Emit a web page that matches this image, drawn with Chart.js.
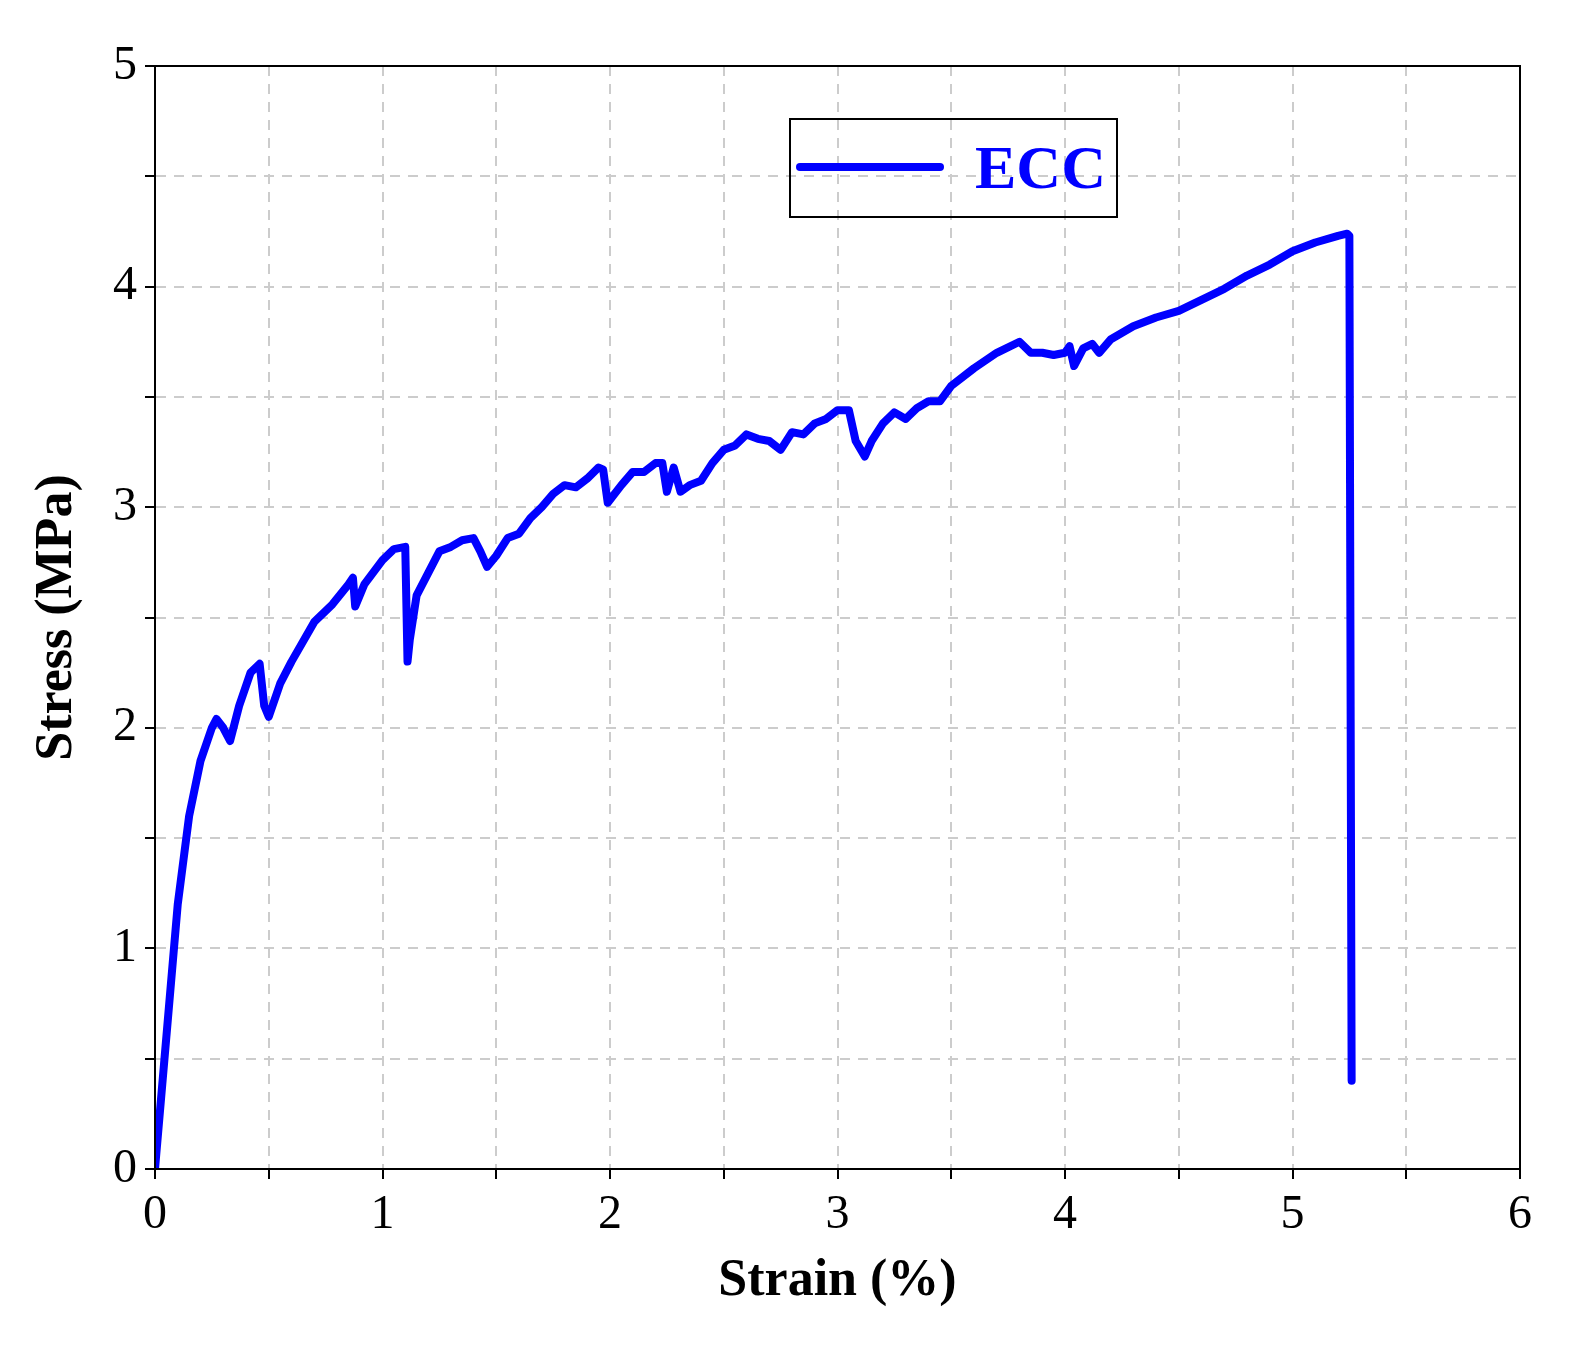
<!DOCTYPE html>
<html>
<head>
<meta charset="utf-8">
<script src="https://cdn.jsdelivr.net/npm/chart.js@4"></script>
<style>
  html, body { margin: 0; background: #fff; overflow: hidden; }
  #wrap { width: 1595px; height: 1355px; position: relative; }
</style>
</head>
<body>
<div id="wrap"><canvas id="lineChart"></canvas></div>
<script>
// strain (%) and stress (MPa)
var strain = [0,0.05,0.1,0.15,0.2,0.25,0.27,0.3,0.33,0.37,0.42,0.46,0.48,0.5,0.55,0.6,0.7,0.78,0.85,0.87,0.88,0.92,1.0,1.05,1.1,1.11,1.12,1.15,1.2,1.25,1.3,1.35,1.4,1.43,1.46,1.5,1.55,1.6,1.65,1.7,1.75,1.8,1.85,1.9,1.95,1.97,1.99,2.05,2.1,2.15,2.2,2.23,2.25,2.28,2.31,2.35,2.4,2.45,2.5,2.55,2.6,2.65,2.7,2.75,2.8,2.85,2.9,2.95,3.0,3.05,3.08,3.12,3.15,3.2,3.25,3.3,3.35,3.4,3.45,3.5,3.6,3.7,3.8,3.85,3.9,3.95,4.0,4.02,4.04,4.08,4.12,4.15,4.2,4.3,4.4,4.5,4.6,4.7,4.8,4.9,5.0,5.1,5.2,5.24,5.25,5.26];
var stress = [0,0.6,1.2,1.6,1.85,2.0,2.04,2.0,1.94,2.1,2.25,2.29,2.1,2.05,2.2,2.3,2.48,2.56,2.65,2.68,2.55,2.65,2.76,2.81,2.82,2.3,2.4,2.6,2.7,2.8,2.82,2.85,2.86,2.8,2.73,2.78,2.86,2.88,2.95,3.0,3.06,3.1,3.09,3.13,3.18,3.17,3.02,3.1,3.16,3.16,3.2,3.2,3.07,3.18,3.07,3.1,3.12,3.2,3.26,3.28,3.33,3.31,3.3,3.26,3.34,3.33,3.38,3.4,3.44,3.44,3.3,3.23,3.3,3.38,3.43,3.4,3.45,3.48,3.48,3.55,3.63,3.7,3.75,3.7,3.7,3.69,3.7,3.73,3.64,3.72,3.74,3.7,3.76,3.82,3.86,3.89,3.94,3.99,4.05,4.1,4.16,4.2,4.23,4.24,4.23,0.4];
var seriesName = "ECC";

var pts = [];
for (var i = 0; i < strain.length; i++) pts.push({x: strain[i], y: stress[i]});

var serif = "'Liberation Serif', 'Times New Roman', serif";

var frameAndLegend = {
  id: 'frameAndLegend',
  afterDraw: function(chart) {
    var c = chart.ctx, a = chart.chartArea;
    c.save();
    c.strokeStyle = '#000'; c.lineWidth = 2;
    c.strokeRect(a.left, a.top, a.right - a.left, a.bottom - a.top);
    // legend box
    c.strokeRect(790, 119, 327, 98);
    c.strokeStyle = '#0000ff'; c.lineWidth = 8; c.lineCap = 'round';
    c.beginPath(); c.moveTo(800, 167); c.lineTo(940, 167); c.stroke();
    c.fillStyle = '#0000ff';
    c.font = 'bold 62px ' + serif;
    c.textBaseline = 'middle';
    c.fillText(seriesName, 975, 172);
    c.restore();
  }
};

new Chart(document.getElementById('lineChart').getContext('2d'), {
  type: 'line',
  data: {
    datasets: [{
      label: seriesName,
      data: pts,
      borderColor: '#0000ff',
      borderWidth: 8,
      pointRadius: 0,
      tension: 0,
      borderJoinStyle: 'round',
      borderCapStyle: 'round'
    }]
  },
  options: {
    responsive: true,
    maintainAspectRatio: false,
    animation: false,
    layout: { padding: { top: 66, right: 75, left: 22, bottom: 38 } },
    plugins: { legend: { display: false }, tooltip: { enabled: false } },
    scales: {
      x: {
        type: 'linear', min: 0, max: 6,
        afterFit: function(s) { s.height = 148; },
        ticks: {
          stepSize: 0.5, color: '#000', padding: 8,
          font: { family: serif, size: 48 },
          callback: function(v) { return Number.isInteger(v) ? v : ''; }
        },
        grid: { color: '#cccccc', lineWidth: 2, tickColor: '#000', tickLength: 10 },
        border: { display: true, color: '#000', width: 2, dash: [10, 8] },
        title: { display: true, text: 'Strain (%)', color: '#000', font: { family: serif, size: 52, weight: 'bold' }, padding: { top: 0 } }
      },
      y: {
        min: 0, max: 5,
        afterFit: function(s) { s.width = 133; },
        ticks: {
          stepSize: 0.5, color: '#000', padding: 8,
          font: { family: serif, size: 48 },
          callback: function(v) { return Number.isInteger(v) ? v : ''; }
        },
        grid: { color: '#cccccc', lineWidth: 2, tickColor: '#000', tickLength: 10 },
        border: { display: true, color: '#000', width: 2, dash: [10, 8] },
        title: { display: true, text: 'Stress (MPa)', color: '#000', font: { family: serif, size: 52, weight: 'bold' }, padding: { bottom: 0 } }
      }
    }
  },
  plugins: [frameAndLegend]
});
</script>
</body>
</html>
